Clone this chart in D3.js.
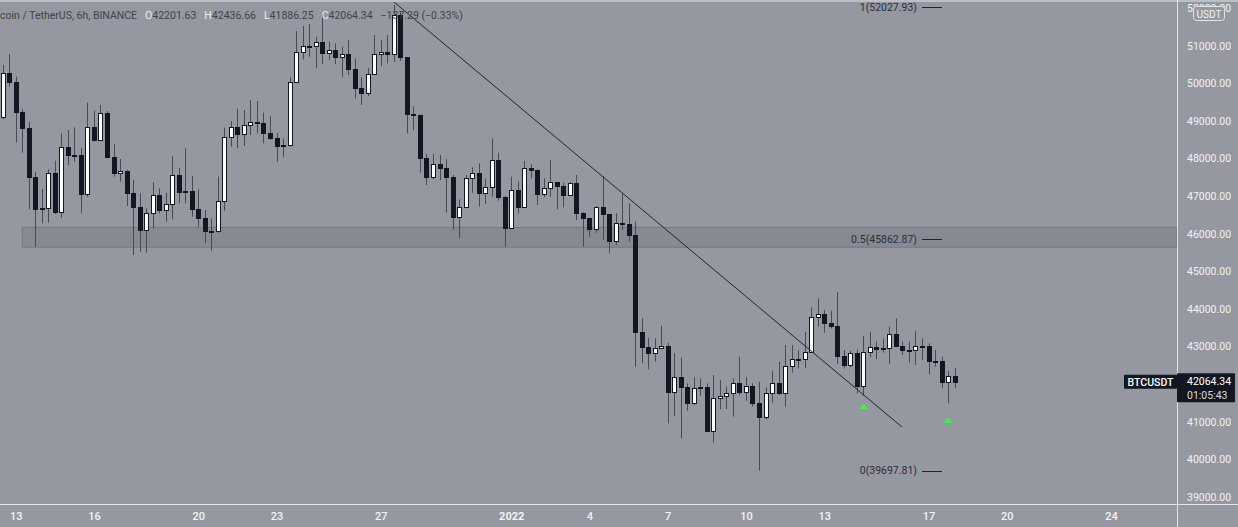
<!DOCTYPE html>
<html>
<head>
<meta charset="utf-8">
<script src="https://cdn.jsdelivr.net/npm/d3@7"></script>
<style>
html,body{margin:0;padding:0;background:#9598a0;overflow:hidden}
text{font-family:Roboto,"Liberation Sans",sans-serif}
</style>
</head>
<body>
<div id="chart"></div>
<script>
var width=1238,height=527;
var plotW=1177,plotH=504;

// 6h candles, first one at 2021-12-12 12:00 UTC
var startTime=Date.UTC(2021,11,12,12);
var stepMs=6*3600*1000;

var opens=[49099,50270,50046,49232,48822,47502,46659,46680,47608,46587,48316,48095,48100,47058,48849,48495,49205,48050,47608,47678,
47076,46720,46100,46544,47031,46632,46792,47563,47119,47125,46650,46411,46073,46080,46879,48582,48832,48646,48886,48966,
48955,48673,48556,48343,48350,50046,50828,51004,51000,51110,50818,50890,50695,50775,50384,49870,49753,50251,50775,50844,
50775,51821,50695,49178,49170,48008,47518,47856,47742,47518,46438,46720,47491,47624,47092,47252,47962,46986,46161,47164,
46720,47742,47696,47058,47209,47369,47271,47031,47342,46560,46411,46118,46704,46517,45807,46278,46260,45967,43393,42994,
42819,42952,43021,41781,42196,41930,41504,41903,41910,40759,41621,41690,41770,42020,41797,41957,41504,41116,41770,42036,
41754,42481,42659,42660,42861,43793,43856,43617,43545,42747,42499,42835,41948,42853,42994,42925,42968,43324,43021,42906,
42900,43013,43021,42614,42610,42050,42201.63];
var highs=[50490,50783,50179,49312,48982,47651,47191,47715,47944,48673,48761,48833,48274,49487,49274,49426,49266,48380,47989,47700,
47430,47076,46677,47369,47209,47092,48069,47750,48274,47537,47183,46632,46411,47518,48822,48998,49327,49293,49559,49532,
49221,49133,48689,48540,50163,51395,51528,51581,51243,51821,51110,51068,50977,51156,50669,50163,50403,51289,51156,51289,
52088,51909,50700,49399,49180,48122,48122,48095,47981,47563,46917,47563,47768,47874,47475,48540,48157,47000,47518,47385,
47936,47848,47720,47475,47962,47380,47358,47385,47563,46570,46420,46738,47537,46520,46544,47076,46810,46320,43750,43234,
43218,43545,43100,42819,42701,42020,42180,42153,42020,42241,42108,41930,42153,42728,42180,42020,42063,41914,42355,42595,
43039,43039,42906,43393,44043,44282,43971,43952,44442,42906,42888,42925,43279,43393,43127,43218,43527,43750,43127,43127,
43420,43218,43085,42906,42728,42348,42436.66];
var lows=[49050,49913,48433,48157,46650,45655,46278,46294,46525,46427,47829,47917,46544,46984,48450,48480,48020,47518,47385,46738,
45434,45522,45496,46145,46544,46320,46384,46810,46810,46454,46188,45746,45549,46028,46613,48316,48274,48335,48628,48673,
48407,48495,47917,48034,48320,50019,50642,50711,50402,50517,50623,50517,50163,50224,49604,49426,49665,50230,50464,50536,
50578,50605,48673,48761,47624,47297,47449,47430,46560,46100,45879,46677,47092,46720,46792,46986,46879,45655,46145,46544,
46700,47475,46765,46970,46986,46650,46704,47004,46366,45655,45921,46028,45834,45480,45700,46100,45788,42462,42552,42393,
42595,42940,40956,41150,40557,41291,41443,41682,40732,40450,41329,41337,41132,41709,41557,41398,39697.81,41062,41504,41709,
41398,42302,42420,42420,42835,43526,43367,43484,42534,42420,42446,41754,41682,42712,42659,42835,42534,42994,42773,42569,
42507,42640,42260,42462,41887,41488,41886.25];
var closes=[50270,50046,49232,48822,47502,46659,46680,47608,46587,48316,48095,48100,47058,48849,48495,49205,48050,47608,47678,47076,
46720,46100,46544,47031,46632,46792,47563,47119,47125,46650,46411,46073,46080,46879,48582,48832,48646,48886,48966,48955,
48673,48556,48343,48350,50046,50828,51004,51000,51110,50818,50890,50695,50775,50384,49870,49753,50251,50775,50844,50775,
51821,50695,49178,49170,48008,47518,47856,47742,47518,46438,46720,47491,47624,47092,47252,47962,46986,46161,47164,46720,
47742,47696,47058,47209,47369,47271,47031,47342,46560,46411,46118,46704,46517,45807,46278,46260,45967,43393,42994,42819,
42952,43021,41781,42196,41930,41504,41903,41910,40759,41621,41690,41770,42020,41797,41957,41504,41116,41770,42036,41754,
42481,42659,42660,42861,43793,43856,43617,43545,42747,42499,42835,41948,42853,42994,42925,42968,43324,43021,42906,42900,
43013,43021,42614,42610,42047,42201.63,42064.34];

var priceTicks=[39000,40000,41000,43000,44000,45000,46000,47000,48000,49000,50000,51000,52000];
var dayTicks=["2021-12-13","2021-12-16","2021-12-20","2021-12-23","2021-12-27","2022-01-01","2022-01-04",
  "2022-01-07","2022-01-10","2022-01-13","2022-01-17","2022-01-20","2022-01-24"];
var dayLabels=["13","16","20","23","27","2022","4","7","10","13","17","20","24"];

var fibLevels=["1","0.5","0"];
var fibPrices=[52027.93,45862.87,39697.81];
var zonePrices=[45640,46170];
var zoneStartIdx=3;
var trendTimes=["2021-12-27T12:00Z","2022-01-15T23:30Z"];
var trendPrices=[52170,40860];
var markerIdx=[132,145];
var markerPrices=[41416,41044];

var headerName="coin / TetherUS, 6h, BINANCE";
var headerO="42201.63",headerH="42436.66",headerL="41886.25",headerC="42064.34",headerChg="\u2212137.29 (\u22120.33%)";
var lastPrice=42064.34,countdown="01:05:43",symbol="BTCUSDT",currency="USDT";

var candles=opens.map(function(o,i){
    return {t:new Date(startTime+i*stepMs),o:o,h:highs[i],l:lows[i],c:closes[i]};
});

var x=d3.scaleTime()
    .domain([new Date(startTime),new Date(startTime+146*stepMs)])
    .range([2.7,954.6]);
var y=d3.scaleLinear().domain([39000,52000]).range([496.8,8.3]);

var svg=d3.select("#chart").append("svg")
    .attr("width",width).attr("height",height);

svg.append("rect").attr("width",width).attr("height",height).attr("fill","#9598a0");
svg.append("defs").append("clipPath").attr("id","plotclip")
    .append("rect").attr("width",plotW).attr("height",plotH);

var plot=svg.append("g").attr("clip-path","url(#plotclip)");

// support zone
plot.append("rect")
    .attr("x",x(candles[zoneStartIdx].t))
    .attr("y",y(zonePrices[1]))
    .attr("width",plotW-x(candles[zoneStartIdx].t))
    .attr("height",y(zonePrices[0])-y(zonePrices[1]))
    .attr("fill","rgba(60,63,75,0.15)")
    .attr("stroke","rgba(60,63,75,0.28)")
    .attr("stroke-width",1);

function cx(d){return Math.round(x(d.t));}

// wicks
plot.append("g").selectAll("line")
    .data(candles).enter().append("line")
    .attr("x1",function(d){return cx(d)+0.5;})
    .attr("x2",function(d){return cx(d)+0.5;})
    .attr("y1",function(d){return y(d.h);})
    .attr("y2",function(d){return y(d.l);})
    .attr("stroke","#474a54").attr("stroke-width",1);

// bodies
plot.append("g").selectAll("rect")
    .data(candles).enter().append("rect")
    .attr("x",function(d){return cx(d)-1.5;})
    .attr("y",function(d){return Math.round(y(Math.max(d.o,d.c)))+0.5;})
    .attr("width",4)
    .attr("height",function(d){
        var h=Math.round(y(Math.min(d.o,d.c)))-Math.round(y(Math.max(d.o,d.c)));
        return Math.max(h,1);
    })
    .attr("fill",function(d){return d.c>=d.o?"#ffffff":"#131722";})
    .attr("stroke","#131722").attr("stroke-width",1);

// trend line
plot.append("line")
    .attr("x1",x(new Date(trendTimes[0]))).attr("y1",y(trendPrices[0]))
    .attr("x2",x(new Date(trendTimes[1]))).attr("y2",y(trendPrices[1]))
    .attr("stroke","#22252e").attr("stroke-width",1);

// fib labels
var fib=plot.append("g");
fibPrices.forEach(function(p,i){
    fib.append("line").attr("x1",922).attr("x2",942)
        .attr("y1",Math.round(y(p))+0.5).attr("y2",Math.round(y(p))+0.5)
        .attr("stroke","#22252e").attr("stroke-width",1);
    fib.append("text").attr("x",917).attr("y",y(p)).attr("dy","0.35em")
        .attr("text-anchor","end").attr("font-size","10.5px").attr("fill","#2a2e39")
        .text(fibLevels[i]+"("+p.toFixed(2)+")");
});

// green arrows
plot.append("g").selectAll("path")
    .data(markerIdx).enter().append("path")
    .attr("transform",function(d,i){return "translate("+x(candles[d].t)+","+y(markerPrices[i])+")";})
    .attr("d","M-4.5,3L0,-2.5L4.5,3Z")
    .attr("fill","#45f045");

// axis separators
svg.append("line").attr("x1",0).attr("x2",width).attr("y1",1).attr("y2",1)
    .attr("stroke","#c9ccd3").attr("stroke-width",1.5);
svg.append("line").attr("x1",plotW+0.5).attr("x2",plotW+0.5).attr("y1",0).attr("y2",height)
    .attr("stroke","#e3e5ea").attr("stroke-width",1);
svg.append("line").attr("x1",0).attr("x2",width).attr("y1",plotH+0.5).attr("y2",plotH+0.5)
    .attr("stroke","#e3e5ea").attr("stroke-width",1);

// price axis
var yAxis=svg.append("g").attr("transform","translate("+plotW+",0)")
    .call(d3.axisRight(y).tickValues(priceTicks).tickSize(0).tickPadding(10)
        .tickFormat(function(d){return d.toFixed(2);}));
yAxis.select(".domain").remove();
yAxis.selectAll("text").attr("font-size","10.5px").attr("fill","#f2f3f6")
    .attr("font-family","Roboto, sans-serif");

// time axis
var xAxis=svg.append("g").attr("transform","translate(0,"+plotH+")")
    .call(d3.axisBottom(x).tickValues(dayTicks.map(function(d){return new Date(d+"T00:00Z");}))
        .tickSize(0).tickPadding(8)
        .tickFormat(function(d,i){return dayLabels[i];}));
xAxis.select(".domain").remove();
xAxis.selectAll("text").attr("font-size","11px").attr("fill","#f2f3f6")
    .attr("font-family","Roboto, sans-serif")
    .attr("font-weight",function(d,i){return dayLabels[i]==="2022"?"bold":"500";});

// currency badge (sits over the top price label, as in the terminal)
svg.append("rect").attr("x",1193.5).attr("y",6.5).attr("width",31).attr("height",14).attr("rx",3)
    .attr("fill","#9598a0").attr("stroke","#e3e5ea");
svg.append("text").attr("x",1209).attr("y",17.5).attr("text-anchor","middle")
    .attr("font-size","10px").attr("fill","#f2f3f6").text(currency);

// last price labels
var yl=y(lastPrice);
svg.append("rect").attr("x",1124).attr("y",yl-7).attr("width",53).attr("height",14)
    .attr("fill","#131722").attr("rx",1);
svg.append("text").attr("x",1150.5).attr("y",yl+4).attr("text-anchor","middle")
    .attr("font-size","10.5px").attr("font-weight","500").attr("fill","#ffffff").text(symbol);
svg.append("rect").attr("x",1177).attr("y",yl-8.5).attr("width",58).attr("height",29)
    .attr("fill","#131722").attr("rx",1);
svg.append("text").attr("x",1187).attr("y",yl+3.5)
    .attr("font-size","10.5px").attr("fill","#ffffff").text(lastPrice.toFixed(2));
svg.append("text").attr("x",1187).attr("y",yl+17)
    .attr("font-size","10.5px").attr("fill","#d8dae0").text(countdown);

// header
var head=svg.append("text").attr("x",0).attr("y",18.5).attr("font-size","10.5px").attr("fill","#40434d");
head.append("tspan").text(headerName);
[["O",headerO],["H",headerH],["L",headerL],["C",headerC]].forEach(function(p){
    head.append("tspan").attr("dx",8).attr("fill","#eceef2").text(p[0]);
    head.append("tspan").text(p[1]);
});
head.append("tspan").attr("dx",8).text(headerChg);
</script>
</body>
</html>
